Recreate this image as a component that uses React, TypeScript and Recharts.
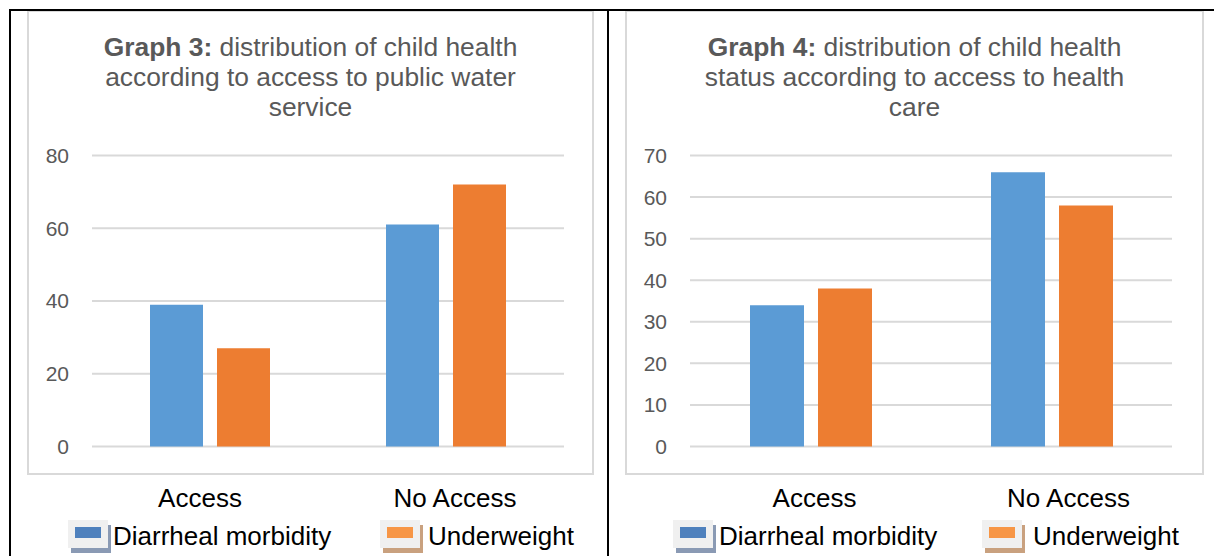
import React from 'react';
import { BarChart, Bar, XAxis, YAxis, CartesianGrid } from 'recharts';

const categories = ['Access', 'No Access'];
const seriesNames = ['Diarrheal morbidity', 'Underweight'];
const waterDiarrheal = [39, 61];
const waterUnderweight = [27, 72];
const careDiarrheal = [34, 66];
const careUnderweight = [38, 58];
const waterTicks = [0, 20, 40, 60, 80];
const careTicks = [0, 10, 20, 30, 40, 50, 60, 70];
const title3Lines = ['distribution of child health', 'according to access to public water', 'service'];
const title4Lines = ['distribution of child health', 'status according to access to health', 'care'];

const BAR_COLORS = ['#5b9bd5', '#ed7d31'];
const LEGEND_COLORS = ['#4f81bd', '#f79646'];
const SHADOW_COLORS = ['#8a9ab4', '#c9a17f'];
const FONT = '"Liberation Sans", Arial, sans-serif';

const waterData = categories.map((c, i) => ({ name: c, d: waterDiarrheal[i], u: waterUnderweight[i] }));
const careData = categories.map((c, i) => ({ name: c, d: careDiarrheal[i], u: careUnderweight[i] }));

function makeTick(offsets: number[]) {
  return (props: any) => {
    const { x, y, payload, index } = props;
    return (
      <text x={x + (offsets[index] || 0)} y={y} dy={60} textAnchor="middle" fill="#000" fontSize={26} fontFamily={FONT}>
        {payload.value}
      </text>
    );
  };
}

function LegendIcon({ i }: { i: number }) {
  return (
    <div style={{ position: 'relative', width: 44, height: 34 }}>
      <div style={{ position: 'absolute', left: 3, top: 5, width: 40, height: 28, background: SHADOW_COLORS[i] }} />
      <div style={{ position: 'absolute', left: 0, top: 0, width: 40, height: 28, background: '#f0f0f0' }} />
      <div style={{ position: 'absolute', left: 7, top: 7, width: 26, height: 11, background: LEGEND_COLORS[i] }} />
    </div>
  );
}

type PanelProps = {
  data: any[];
  ticks: number[];
  left: number;
  width: number;
  yAxisWidth: number;
  rightMargin: number;
  barSize: number;
  labelOffsets: number[];
  titleNum: string;
  titleLines: string[];
  frameLeft: number;
  frameRight: number;
  legendIconX: number[];
  legendTextX: number[];
};

function Panel(p: PanelProps) {
  const frameW = p.frameRight - p.frameLeft;
  return (
    <>
      <div style={{ position: 'absolute', left: p.frameLeft, top: 10, width: frameW, height: 465, border: '2px solid #d9d9d9', boxSizing: 'border-box', background: '#fff' }} />
      <div style={{ position: 'absolute', left: p.frameLeft, top: 32, width: frameW, textAlign: 'center', fontFamily: FONT, fontSize: 26.4, lineHeight: '30px', color: '#595959' }}>
        <b>{p.titleNum}</b> {p.titleLines[0]}<br />{p.titleLines[1]}<br />{p.titleLines[2]}
      </div>
      <div style={{ position: 'absolute', left: p.left, top: 0 }}>
        <BarChart width={p.width} height={556} data={p.data} margin={{ top: 155.5, right: p.rightMargin, left: 0, bottom: 49.5 }} barSize={p.barSize} barGap={14}>
          <CartesianGrid vertical={false} stroke="#d9d9d9" strokeWidth={2} />
          <XAxis dataKey="name" axisLine={false} tickLine={false} tickSize={0} tickMargin={0} height={60} tick={makeTick(p.labelOffsets)} interval={0} />
          <YAxis domain={[0, p.ticks[p.ticks.length - 1]]} ticks={p.ticks} width={p.yAxisWidth} axisLine={false} tickLine={false} tickSize={0} tickMargin={23} tick={{ fill: '#595959', fontSize: 21, fontFamily: FONT }} />
          <Bar dataKey="d" name={seriesNames[0]} fill={BAR_COLORS[0]} isAnimationActive={false} />
          <Bar dataKey="u" name={seriesNames[1]} fill={BAR_COLORS[1]} isAnimationActive={false} />
        </BarChart>
      </div>
      {seriesNames.map((s, i) => (
        <React.Fragment key={s}>
          <div style={{ position: 'absolute', left: p.legendIconX[i], top: 520 }}>
            <LegendIcon i={i} />
          </div>
          <div style={{ position: 'absolute', left: p.legendTextX[i], top: 521, fontFamily: FONT, fontSize: 26, lineHeight: '30px', color: '#000', whiteSpace: 'nowrap' }}>{s}</div>
        </React.Fragment>
      ))}
    </>
  );
}

export default function App() {
  return (
    <div style={{ position: 'absolute', left: 0, top: 0, width: 1214, height: 556, background: '#fff', overflow: 'hidden' }}>
      <Panel data={waterData} ticks={waterTicks} left={0} width={600} yAxisWidth={92} rightMargin={36} barSize={53} labelOffsets={[-10, 9]}
        titleNum="Graph 3:" titleLines={title3Lines} frameLeft={27} frameRight={594} legendIconX={[68, 380]} legendTextX={[113, 428]} />
      <Panel data={careData} ticks={careTicks} left={607} width={607} yAxisWidth={83} rightMargin={42} barSize={54} labelOffsets={[4, 17]}
        titleNum="Graph 4:" titleLines={title4Lines} frameLeft={625} frameRight={1204} legendIconX={[673, 982]} legendTextX={[719, 1033]} />
      <div style={{ position: 'absolute', left: 9, top: 9, width: 1205, height: 2, background: '#000' }} />
      <div style={{ position: 'absolute', left: 9, top: 9, width: 2, height: 547, background: '#000' }} />
      <div style={{ position: 'absolute', left: 607, top: 9, width: 2, height: 547, background: '#000' }} />
    </div>
  );
}
